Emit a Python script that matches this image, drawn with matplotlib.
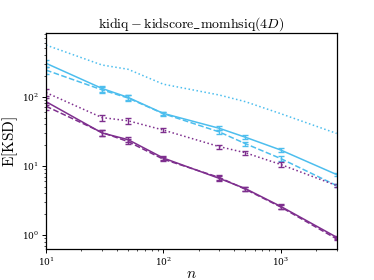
import numpy as np
import matplotlib
matplotlib.use("Agg")
import matplotlib.pyplot as plt

plt.rcParams["mathtext.fontset"] = "cm"
plt.rcParams["font.family"] = "serif"
plt.rcParams["font.serif"] = ["DejaVu Serif"]

# sample sizes
n = [10, 30, 50, 100, 300, 500, 1000, 3000]

# light blue series
blue_solid = [305, 132, 98, 57.5, 35, 26, 17, 7.5]
blue_dashed = [243, 126, 96, 57, 31, 21, 12.8, 5.2]
blue_dotted = [560, 288, 250, 152, 106, 85, 57, 29.5]

# purple series
purple_solid = [85, 30, 24, 13, 6.6, 4.7, 2.6, 0.93]
purple_dashed = [73, 30.5, 22.5, 12.5, 6.8, 4.6, 2.55, 0.88]
purple_dotted = [115, 50, 45, 33, 19, 15.5, 10.5, 5.2]

# relative error bar half-widths
err_rel = [0.12, 0.1, 0.09, 0.06, 0.07, 0.07, 0.07, 0.05]

blue = "#4DBEEE"
purple = "#7E2F8E"

fig = plt.figure(figsize=(3.74, 2.8), dpi=100)
ax = fig.add_axes([0.123, 0.111, 0.777, 0.771])

series = [
    (blue_solid, blue, "-", True),
    (blue_dashed, blue, "--", True),
    (blue_dotted, blue, ":", False),
    (purple_solid, purple, "-", True),
    (purple_dashed, purple, "--", True),
    (purple_dotted, purple, ":", True),
]
for vals, col, ls, with_err in series:
    vals = np.array(vals)
    if with_err:
        err = vals * np.array(err_rel)
        ax.errorbar(n, vals, yerr=err, color=col, linestyle=ls, linewidth=1.1,
                    elinewidth=1.0, capsize=2, capthick=1.0)
    else:
        ax.plot(n, vals, color=col, linestyle=ls, linewidth=1.1)

ax.set_xscale("log")
ax.set_yscale("log")
ax.set_xlim(10, 3000)
ax.set_ylim(0.63, 835)

ax.tick_params(which="major", length=3, width=0.7, labelsize=6.5, pad=2)
ax.tick_params(which="minor", length=1.5, width=0.5)
for s in ax.spines.values():
    s.set_linewidth(0.9)

ax.set_title(r"$\mathrm{kidiq} - \mathrm{kidscore\_momhsiq}(4D)$", fontsize=10, pad=4)
ax.set_xlabel(r"$n$", fontsize=11)
ax.set_ylabel(r"$\mathrm{E}[\mathrm{KSD}]$", fontsize=11)
ax.xaxis.set_label_coords(0.5, -0.085)
ax.yaxis.set_label_coords(-0.09, 0.5)

fig.savefig("out.png", dpi=100)
